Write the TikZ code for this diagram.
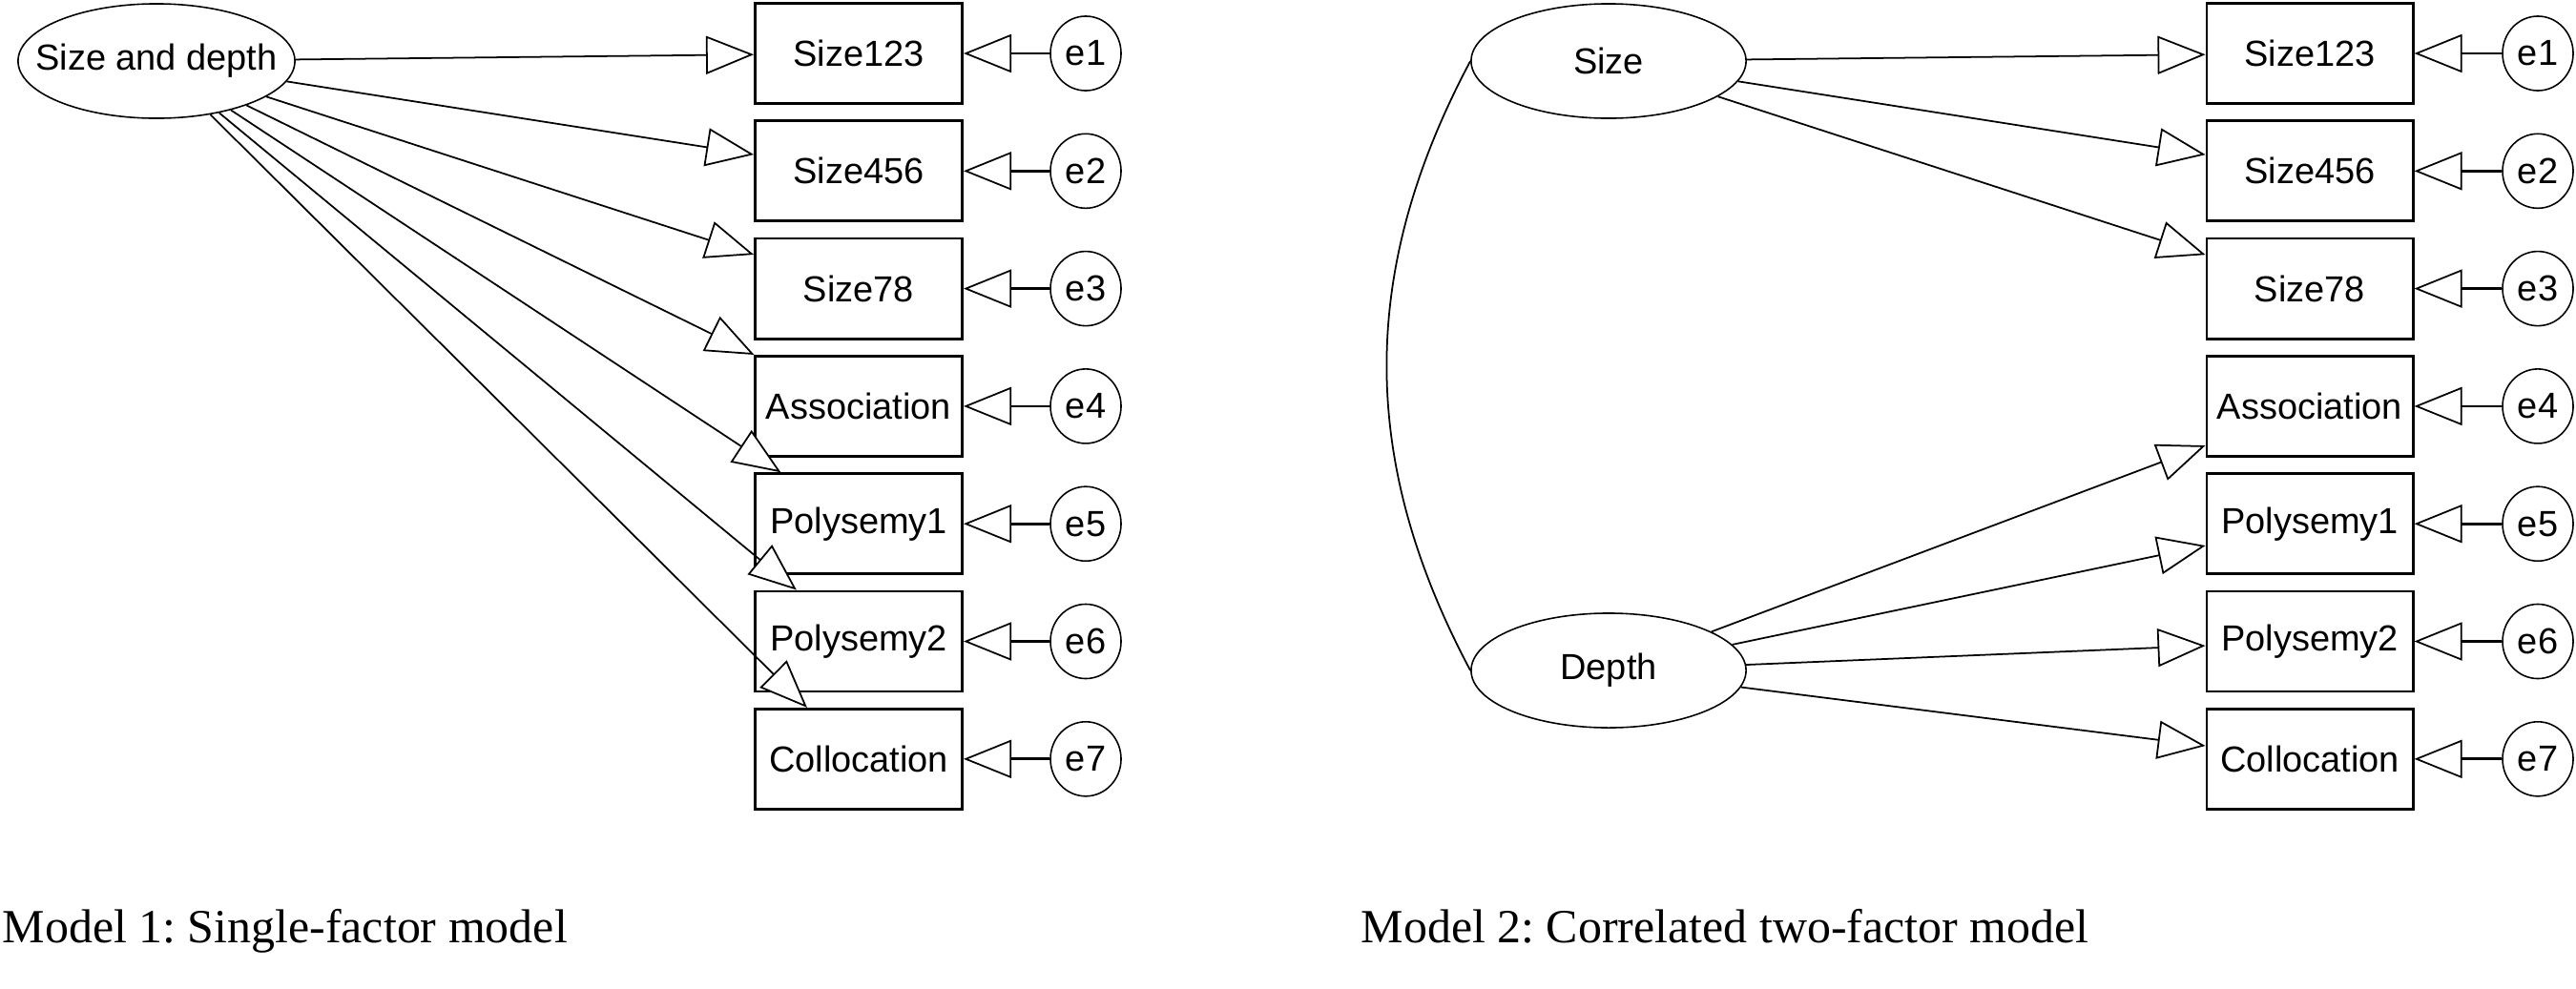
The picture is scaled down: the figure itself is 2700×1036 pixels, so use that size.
\documentclass[tikz,border=0pt]{standalone}
\usepackage{fontspec}
\setmainfont{Liberation Serif}
\newfontfamily\arialfont{Liberation Sans}
\usetikzlibrary{shapes.geometric,arrows.meta}
\frenchspacing
\begin{document}
\begin{tikzpicture}[x=0.01cm,y=-0.01cm,
  latent/.style={ellipse,draw,line width=0.45pt,minimum width=2.9cm,minimum height=1.2cm,inner sep=0pt,font=\arialfont\fontsize{10.8pt}{12pt}\selectfont},
  obs/.style={rectangle,draw,line width=0.8pt,minimum width=2.17cm,minimum height=1.05cm,inner sep=0pt,font=\arialfont\fontsize{10.8pt}{12pt}\selectfont},
  err/.style={ellipse,draw,line width=0.45pt,minimum width=0.74cm,minimum height=0.78cm,inner sep=0pt,font=\arialfont\fontsize{10.8pt}{12pt}\selectfont},
  path/.style={line width=0.5pt,-{Triangle[length=0.5cm,width=0.4cm,fill=white,line width=0.5pt]}},
  epath/.style={line width=0.8pt,-{Triangle[length=0.5cm,width=0.4cm,fill=white,line width=0.5pt]}},
  cov/.style={line width=0.5pt},
  caption/.style={anchor=base west,inner sep=0pt,font=\fontsize{14.2pt}{16pt}\selectfont}]
\useasboundingbox (0,0) rectangle (2700,1036);

% ---------- Model 1 ----------
\node[latent] (F) at (164,64) {\makebox[0pt]{Size and depth}};
\foreach \n/\t [count=\i from 0] in {a1/Size123,a2/Size456,a3/Size78,a4/Association,a5/Polysemy1,a6/Polysemy2,a7/Collocation}{
  \node[obs] (\n) at (900,56+123.3*\i) {\t};
  \node[err] (ea\i) at (1138,56+123.3*\i) {e\the\numexpr\i+1\relax};
  \draw[epath] (ea\i) -- (\n);
  \draw[path] (F) -- (\n);
}

% ---------- Model 2 ----------
\node[latent,minimum width=2.88cm] (S) at (1686,64) {\makebox[0pt]{Size}};
\node[latent,minimum width=2.88cm] (D) at (1686,703) {\makebox[0pt]{Depth}};
\foreach \n/\t [count=\i from 0] in {b1/Size123,b2/Size456,b3/Size78,b4/Association,b5/Polysemy1,b6/Polysemy2,b7/Collocation}{
  \node[obs,minimum width=2.16cm] (\n) at (2421,56+123.3*\i) {\t};
  \node[err] (eb\i) at (2660,56+123.3*\i) {e\the\numexpr\i+1\relax};
  \draw[epath] (eb\i) -- (\n);
}
\foreach \n in {b1,b2,b3}{\draw[path] (S) -- (\n);}
\foreach \n in {b4,b5,b6,b7}{\draw[path] (D) -- (\n);}
\draw[cov] (S.west) to[bend right=28] (D.west);

% ---------- captions ----------
\node[caption] (c1) at (2,988) {Model 1: Single-factor model};
\node[caption] (c2) at (1426,988) {Model 2: Correlated two-factor model};
\end{tikzpicture}
\end{document}
